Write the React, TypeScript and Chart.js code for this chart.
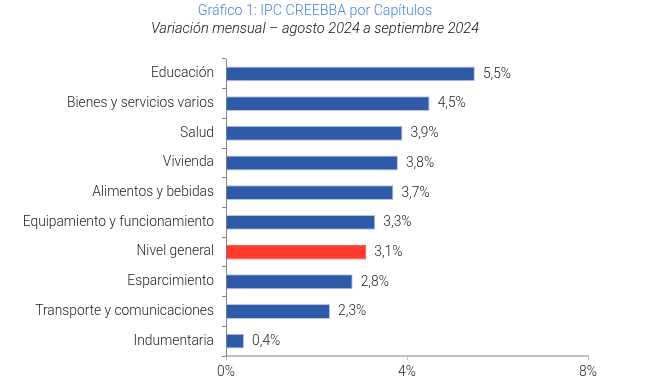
import React, { useEffect, useRef } from "react";
import { Chart, registerables } from "chart.js";

Chart.register(...registerables);

const categories = [
  "Educación",
  "Bienes y servicios varios",
  "Salud",
  "Vivienda",
  "Alimentos y bebidas",
  "Equipamiento y funcionamiento",
  "Nivel general",
  "Esparcimiento",
  "Transporte y comunicaciones",
  "Indumentaria",
];
const values = [5.5, 4.5, 3.9, 3.8, 3.7, 3.3, 3.1, 2.8, 2.3, 0.4];
const highlight = "Nivel general";
const titleText = "Gráfico 1: IPC CREEBBA por Capítulos";
const subtitleText = "Variación mensual – agosto 2024 a septiembre 2024";
const xTicks = [0, 4, 8];

const FONT = "Roboto, 'Noto Sans', sans-serif";

const valueLabels = {
  id: "valueLabels",
  afterDatasetsDraw(chart: any) {
    const ctx = chart.ctx;
    const meta = chart.getDatasetMeta(0);
    ctx.save();
    ctx.font = `300 13.8px ${FONT}`;
    ctx.fillStyle = "#222222";
    ctx.textAlign = "left";
    ctx.textBaseline = "middle";
    meta.data.forEach((bar: any, i: number) => {
      const v = values[i];
      ctx.fillText(v.toFixed(1).replace(".", ",") + "%", bar.x + 8, bar.y + 0.5);
    });
    ctx.restore();
  },
};

const titles = {
  id: "titles",
  afterDraw(chart: any) {
    const ctx = chart.ctx;
    ctx.save();
    ctx.textAlign = "center";
    ctx.textBaseline = "middle";
    ctx.font = `300 14.2px ${FONT}`;
    ctx.fillStyle = "#4a86d8";
    ctx.fillText(titleText, 315, 11);
    ctx.font = `italic 300 14.6px ${FONT}`;
    ctx.fillStyle = "#111111";
    ctx.fillText(subtitleText, 315, 29);
    ctx.restore();
  },
};

export default function App() {
  const ref = useRef<HTMLCanvasElement>(null);
  useEffect(() => {
    if (!ref.current) return;
    const chart = new Chart(ref.current, {
      type: "bar",
      data: {
        labels: categories,
        datasets: [
          {
            data: values,
            backgroundColor: categories.map((c) => (c === highlight ? "#ff3b30" : "#2e5aa8")),
            borderColor: categories.map((c) => (c === highlight ? "#ff3b30" : "#b4c7e7")),
            borderWidth: 1,
            categoryPercentage: 1,
            barPercentage: 0.5,
          },
        ],
      },
      plugins: [valueLabels, titles],
      options: {
        indexAxis: "y",
        responsive: false,
        animation: false,
        layout: { padding: { top: 59, right: 76, bottom: 0, left: 0 } },
        plugins: {
          legend: { display: false },
          tooltip: { enabled: false },
          title: { display: false },
        },
        scales: {
          x: {
            min: 0,
            max: 8,
            afterBuildTicks(scale: any) {
              scale.ticks = xTicks.map((v) => ({ value: v }));
            },
            afterFit(scale: any) {
              scale.height = 33;
              scale.paddingLeft = 0;
              scale.paddingRight = 0;
            },
            grid: {
              drawOnChartArea: false,
              drawTicks: true,
              tickLength: 4,
              color: "#bfbfbf",
            },
            border: { color: "#bfbfbf", width: 2 },
            ticks: {
              padding: 4,
              color: "#222222",
              font: { family: FONT, size: 13.8, weight: "300" },
              callback: (v: any) => v + "%",
              maxRotation: 0,
            },
          },
          y: {
            afterFit(scale: any) {
              scale.width = 226;
            },
            grid: {
              drawOnChartArea: false,
              tickLength: 4,
              color: "#868686",
            },
            border: { color: "#868686", width: 1 },
            ticks: {
              padding: 8,
              color: "#222222",
              font: { family: FONT, size: 13.8, weight: "300" },
            },
          },
        },
      },
    });
    return () => chart.destroy();
  }, []);
  return (
    <div style={{ position: "absolute", left: 0, top: 0, width: 664, height: 389, background: "#fff" }}>
      <canvas ref={ref} width={664} height={389} style={{ width: 664, height: 389 }} />
    </div>
  );
}
